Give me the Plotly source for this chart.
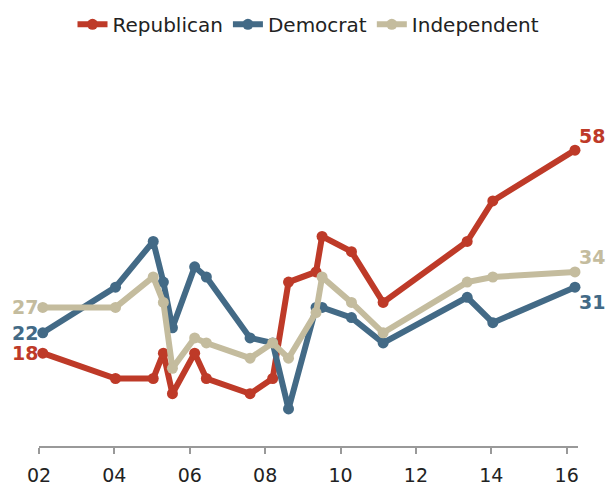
import plotly.graph_objects as go

years = [2002.1, 2004.03, 2005.03, 2005.3, 2005.54, 2006.13, 2006.44, 2007.6, 2008.2, 2008.62,
         2009.35, 2009.51, 2010.29, 2011.13, 2013.36, 2014.04, 2016.22]
republican = [18, 13, 13, 18, 10, 18, 13, 10, 13, 32, 34, 41, 38, 28, 40, 48, 58]
democrat = [22, 31, 40, 32, 23, 35, 33, 21, 20, 7, 27, 27, 25, 20, 29, 24, 31]
independent = [27, 27, 33, 28, 15, 21, 20, 17, 20, 17, 26, 33, 28, 22, 32, 33, 34]

tick_vals = [2002, 2004, 2006, 2008, 2010, 2012, 2014, 2016]
tick_text = ["02", "04", "06", "08", "10", "12", "14", "16"]

series = [
    ("Republican", republican, "#BE3A28"),
    ("Democrat", democrat, "#436A86"),
    ("Independent", independent, "#C4BC9E"),
]

FONT = "DejaVu Sans, sans-serif"

fig = go.Figure()
for name, vals, color in series:
    fig.add_trace(go.Scatter(
        x=years, y=vals, name=name, mode="lines+markers",
        line=dict(color=color, width=6),
        marker=dict(color=color, size=11),
        cliponaxis=False,
    ))

annotations = []
for name, vals, color in series:
    annotations.append(dict(
        x=years[0], y=vals[0], xref="x", yref="y", text=f"<b>{vals[0]}</b>",
        showarrow=False, xanchor="right", yanchor="middle", xshift=-3,
        font=dict(family=FONT, size=19, color=color),
    ))
end_shift = {"Republican": 14, "Democrat": -15, "Independent": 15}
for name, vals, color in series:
    annotations.append(dict(
        x=years[-1], y=vals[-1], xref="x", yref="y", text=f"<b>{vals[-1]}</b>",
        showarrow=False, xanchor="left", yanchor="middle", xshift=2, yshift=end_shift[name],
        font=dict(family=FONT, size=19, color=color),
    ))

fig.update_layout(
    width=610, height=487,
    margin=dict(l=39, r=32, t=60, b=41, autoexpand=False),
    paper_bgcolor="white", plot_bgcolor="white",
    font=dict(family=FONT, size=18, color="#222222"),
    showlegend=True,
    legend=dict(orientation="h", x=0.5, xanchor="center", y=0.99, yanchor="top",
                yref="container", font=dict(family=FONT, size=20, color="#222222"),
                itemwidth=30, tracegroupgap=0),
    annotations=annotations,
    xaxis=dict(range=[2002, 2016.3], tickvals=tick_vals, ticktext=tick_text,
               showgrid=False, zeroline=False, showline=True, linecolor="#999999",
               linewidth=1.5, ticks="outside", ticklen=6, tickcolor="#999999",
               tickwidth=1.5, ticklabelstandoff=5,
               tickfont=dict(family=FONT, size=19, color="#222222")),
    yaxis=dict(range=[-0.3, 75.76], visible=False, showgrid=False, zeroline=False),
)

fig.write_html("out.html", config={"displayModeBar": False},
               post_script="document.body.style.margin='0';document.body.style.overflow='hidden';")
